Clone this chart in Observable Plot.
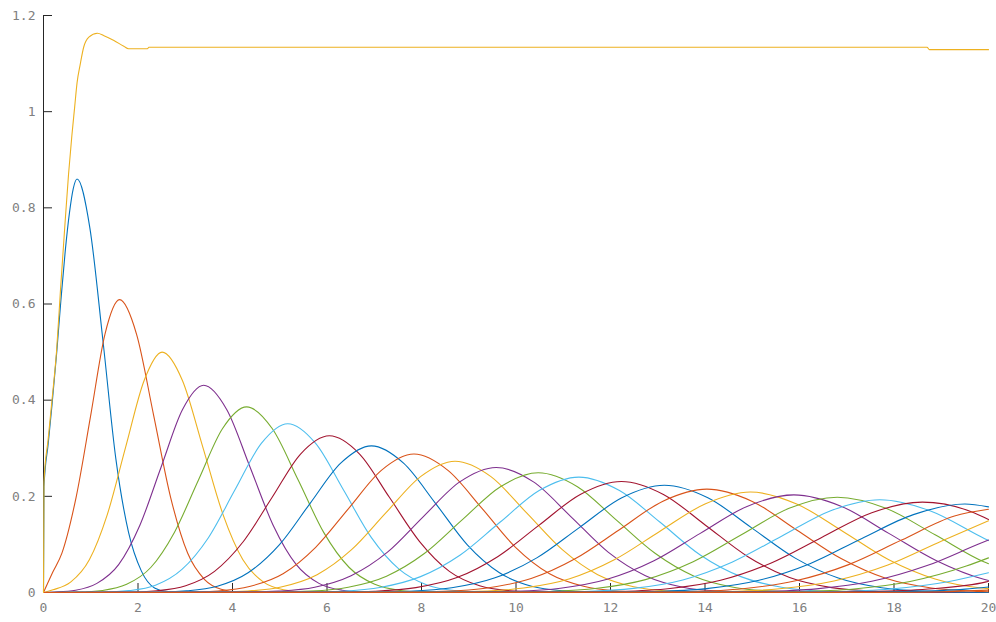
<!DOCTYPE html>
<html><head><meta charset="utf-8">
<script src="https://cdn.jsdelivr.net/npm/d3@7"></script>
<script src="https://cdn.jsdelivr.net/npm/@observablehq/plot@0.6"></script>
<style>
html,body{margin:0;padding:0;background:#fff;}
#chart svg{display:block;}
</style>
</head><body><div id="chart"></div>
<script>
// Component curves: [t, value] points
const c01 = [[0,0],[0.01,0.22],[0.1,0.31],[0.18,0.39],[0.28,0.5],[0.37,0.61],[0.46,0.71],[0.55,0.79],[0.63,0.84],[0.71,0.86],[0.98,0.759],[1.26,0.522],[1.53,0.279],[1.8,0.125],[2.07,0.045],[2.35,0.0095],[2.62,0.0019],[20,0]];
const c02 = [[0,0],[0.2,0.043],[0.39,0.082],[0.69,0.198],[1.0,0.369],[1.3,0.537],[1.61,0.609],[1.97,0.537],[2.33,0.369],[2.69,0.198],[3.05,0.082],[3.41,0.027],[3.76,0.0068],[4.12,0.0013],[20,0]];
const c03 = [[0,0],[0.2,0.0056],[0.58,0.022],[0.97,0.068],[1.35,0.162],[1.74,0.303],[2.13,0.441],[2.51,0.5],[2.94,0.441],[3.37,0.303],[3.8,0.162],[4.22,0.068],[4.65,0.022],[5.08,0.0056],[5.51,0.0011],[20,0]];
const c04 = [[0,0],[0.23,0.0009],[0.68,0.0048],[1.13,0.019],[1.59,0.058],[2.04,0.14],[2.49,0.261],[2.94,0.38],[3.39,0.431],[3.88,0.38],[4.37,0.261],[4.86,0.14],[5.35,0.058],[5.83,0.019],[6.32,0.0048],[6.81,0.0009],[20,0]];
const c05 = [[0,0],[0.74,0.0008],[1.25,0.0043],[1.76,0.017],[2.27,0.052],[2.77,0.125],[3.28,0.234],[3.79,0.341],[4.3,0.386],[4.84,0.341],[5.39,0.234],[5.93,0.125],[6.47,0.052],[7.01,0.017],[7.55,0.0043],[8.1,0.0008],[20,0]];
const c06 = [[0,0],[1.25,0.0008],[1.81,0.0039],[2.37,0.015],[2.93,0.048],[3.49,0.114],[4.05,0.213],[4.61,0.31],[5.17,0.351],[5.76,0.31],[6.35,0.213],[6.94,0.114],[7.53,0.048],[8.13,0.015],[8.72,0.0039],[9.31,0.0008],[20,0]];
const c07 = [[0,0],[1.8,0.0007],[2.4,0.0036],[3.01,0.014],[3.62,0.044],[4.23,0.106],[4.84,0.198],[5.44,0.288],[6.05,0.326],[6.69,0.288],[7.32,0.198],[7.96,0.106],[8.59,0.044],[9.23,0.014],[9.87,0.0036],[10.5,0.0007],[20,0]];
const c08 = [[0,0],[2.38,0.0007],[3.03,0.0034],[3.68,0.013],[4.33,0.041],[4.99,0.099],[5.64,0.185],[6.29,0.269],[6.94,0.305],[7.62,0.269],[8.3,0.185],[8.97,0.099],[9.65,0.041],[10.33,0.013],[11.01,0.0034],[11.69,0.0007],[20,0]];
const c09 = [[0,0],[2.99,0.0006],[3.69,0.0032],[4.38,0.013],[5.07,0.039],[5.76,0.094],[6.46,0.175],[7.15,0.254],[7.84,0.288],[8.56,0.254],[9.28,0.175],[9.99,0.094],[10.71,0.039],[11.43,0.013],[12.15,0.0032],[12.86,0.0006],[20,0]];
const c10 = [[0,0],[3.59,0.0006],[4.32,0.003],[5.05,0.012],[5.79,0.037],[6.52,0.089],[7.25,0.166],[7.98,0.241],[8.71,0.273],[9.47,0.241],[10.22,0.166],[10.98,0.089],[11.73,0.037],[12.49,0.012],[13.24,0.003],[14.0,0.0006],[20,0]];
const c11 = [[0,0],[4.2,0.0006],[4.97,0.0029],[5.74,0.011],[6.51,0.035],[7.28,0.084],[8.04,0.158],[8.81,0.23],[9.58,0.26],[10.37,0.23],[11.16,0.158],[11.95,0.084],[12.74,0.035],[13.53,0.011],[14.32,0.0029],[15.12,0.0006],[20,0]];
const c12 = [[0,0],[4.85,0.0005],[5.65,0.0028],[6.45,0.011],[7.26,0.034],[8.06,0.081],[8.86,0.151],[9.67,0.22],[10.47,0.249],[11.3,0.22],[12.12,0.151],[12.95,0.081],[13.77,0.034],[14.6,0.011],[15.42,0.0028],[16.24,0.0005],[20,0]];
const c13 = [[0,0],[5.47,0.0005],[6.31,0.0027],[7.15,0.011],[7.98,0.033],[8.82,0.078],[9.66,0.146],[10.49,0.212],[11.33,0.24],[12.19,0.212],[13.05,0.146],[13.9,0.078],[14.76,0.033],[15.62,0.011],[16.48,0.0027],[17.33,0.0005],[20,0]];
const c14 = [[0,0],[6.15,0.0005],[7.01,0.0026],[7.88,0.0101],[8.75,0.031],[9.62,0.075],[10.49,0.14],[11.36,0.204],[12.23,0.231],[13.12,0.204],[14.01,0.14],[14.9,0.075],[15.79,0.031],[16.68,0.0101],[17.57,0.0026],[18.46,0.0005],[20,0]];
const c15 = [[0,0],[6.84,0.0005],[7.74,0.0025],[8.64,0.0098],[9.54,0.03],[10.44,0.072],[11.34,0.135],[12.24,0.197],[13.14,0.223],[14.06,0.197],[14.98,0.135],[15.9,0.072],[16.82,0.03],[17.74,0.0098],[18.66,0.0025],[19.58,0.0005],[20,0]];
const c16 = [[0,0],[7.53,0.0005],[8.46,0.0024],[9.39,0.0094],[10.32,0.029],[11.25,0.07],[12.18,0.13],[13.11,0.19],[14.04,0.215],[14.99,0.19],[15.94,0.13],[16.89,0.07],[17.84,0.029],[18.79,0.0094],[19.74,0.0024],[20,0.0015]];
const c17 = [[0,0],[8.24,0.0005],[9.2,0.0023],[10.16,0.0092],[11.12,0.028],[12.08,0.068],[13.04,0.127],[14.0,0.184],[14.96,0.209],[15.94,0.184],[16.92,0.127],[17.89,0.068],[18.87,0.028],[19.85,0.0092],[20,0.008]];
const c18 = [[0,0],[8.96,0.0004],[9.95,0.0023],[10.94,0.0089],[11.93,0.0275],[12.92,0.066],[13.9,0.123],[14.89,0.179],[15.88,0.203],[16.89,0.179],[17.89,0.123],[18.9,0.066],[19.9,0.0275],[20,0.025]];
const c19 = [[0,0],[9.69,0.0004],[10.71,0.0022],[11.72,0.0087],[12.74,0.0268],[13.75,0.064],[14.77,0.12],[15.78,0.175],[16.8,0.198],[17.83,0.175],[18.87,0.12],[19.9,0.064],[20,0.06]];
const c20 = [[0,0],[10.4,0.0004],[11.45,0.0021],[12.49,0.0085],[13.53,0.0261],[14.57,0.063],[15.62,0.117],[16.66,0.17],[17.7,0.193],[18.76,0.17],[19.82,0.117],[20,0.108]];
const c21 = [[0,0],[11.12,0.0004],[12.19,0.0021],[13.26,0.0083],[14.33,0.0254],[15.39,0.061],[16.46,0.114],[17.53,0.166],[18.6,0.188],[19.69,0.166],[20,0.152]];
const c22 = [[0,0],[11.84,0.0004],[12.93,0.002],[14.03,0.0081],[15.12,0.0249],[16.22,0.06],[17.31,0.112],[18.41,0.162],[19.5,0.184],[20,0.178]];
const c23 = [[0,0],[12.57,0.0004],[13.69,0.002],[14.8,0.0079],[15.92,0.0244],[17.04,0.058],[18.16,0.109],[19.28,0.159],[20,0.173]];
const c24 = [[0,0],[13.3,0.0004],[14.44,0.002],[15.58,0.0077],[16.73,0.0238],[17.87,0.057],[19.01,0.107],[20,0.149]];
const c25 = [[0,0],[14.03,0.0004],[15.2,0.0019],[16.36,0.0076],[17.53,0.0233],[18.7,0.056],[19.87,0.104],[20,0.109]];
const c26 = [[0,0],[14.76,0.0004],[15.96,0.0019],[17.15,0.0074],[18.34,0.0229],[19.53,0.055],[20,0.072]];
const c27 = [[0,0],[15.5,0.0004],[16.72,0.0018],[17.93,0.0073],[19.14,0.0225],[20,0.041]];
const c28 = [[0,0],[16.25,0.0004],[17.48,0.0018],[18.72,0.0072],[19.95,0.0221],[20,0.0235]];
const c29 = [[0,0],[16.99,0.0004],[18.25,0.0018],[19.51,0.007],[20,0.0115]];
const c30 = [[0,0],[17.74,0.0003],[19.02,0.0017],[20,0.005]];
// Sum curve (drawn last, yellow)
const total = [[0,0],[0.01,0.23],[0.1,0.32],[0.18,0.40],[0.275,0.50],[0.36,0.63],[0.45,0.76],[0.53,0.87],[0.6,0.95],[0.66,1.01],[0.71,1.06],[0.78,1.10],[0.85,1.134],[0.96,1.155],[1.14,1.163],[1.28,1.158],[1.49,1.148],[1.7,1.136],[1.8,1.131],[2.2,1.131],[2.23,1.134],[18.7,1.134],[18.75,1.129],[20,1.129]];

const xTicks = [0,2,4,6,8,10,12,14,16,18,20];
const yTicks = [0,0.2,0.4,0.6,0.8,1,1.2];
const yTickLabels = ["0","0.2","0.4","0.6","0.8","1","1.2"];
const palette = ["#0072BD","#D95319","#EDB120","#7E2F8E","#77AC30","#4DBEEE","#A2142F"];

const components = [c01,c02,c03,c04,c05,c06,c07,c08,c09,c10,c11,c12,c13,c14,c15,c16,c17,c18,c19,c20,c21,c22,c23,c24,c25,c26,c27,c28,c29,c30];
const rows = [];
components.forEach((pts, i) => pts.forEach(([t, v]) => rows.push({series: i + 1, t, v})));
total.forEach(([t, v]) => rows.push({series: components.length + 1, t, v}));
const colorOf = s => palette[(s - 1) % palette.length];

const labelFont = {fontFamily: "'DejaVu Sans Mono', monospace", fontSize: 13, fill: "#808080"};

const chart = Plot.plot({
  width: 996,
  height: 622,
  marginLeft: 43,
  marginRight: 8,
  marginTop: 15,
  marginBottom: 30,
  x: {domain: [0, 20], label: null},
  y: {domain: [0, 1.2], label: null},
  color: {type: "identity"},
  marks: [
    Plot.ruleX([0], {stroke: "#262626"}),
    Plot.ruleY([0], {stroke: "#262626"}),
    Plot.axisX({ticks: xTicks, tickSize: -9, tickFormat: () => "", stroke: "#262626", label: null}),
    Plot.axisY({ticks: yTicks, tickSize: -9, tickFormat: () => "", stroke: "#262626", label: null}),
    Plot.axisX({ticks: xTicks, tickSize: 0, tickPadding: 10, tickFormat: d => String(d), label: null, ...labelFont}),
    Plot.axisY({ticks: yTicks, tickSize: 0, tickPadding: 8, tickFormat: d => yTickLabels[yTicks.indexOf(d)], label: null, ...labelFont}),
    Plot.lineY(rows, {x: "t", y: "v", z: "series", stroke: d => colorOf(d.series), curve: "monotone-x", strokeWidth: 1.1})
  ]
});
document.getElementById("chart").appendChild(chart);
</script>
</body></html>
